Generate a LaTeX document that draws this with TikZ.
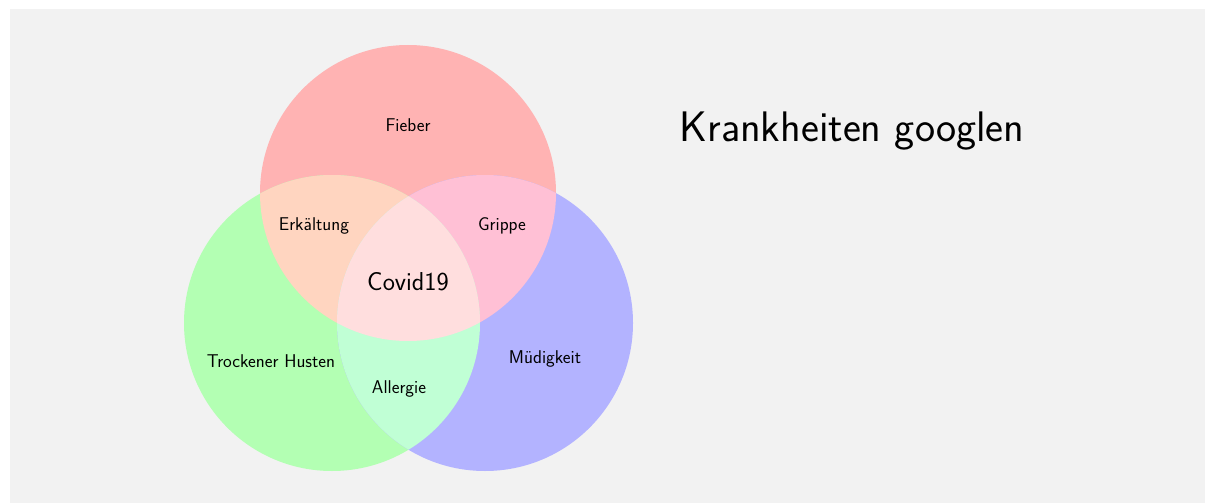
\documentclass[tikz,border=0pt]{standalone}
\usepackage{fontspec}
\definecolor{cR}{RGB}{255,179,179}
\definecolor{cG}{RGB}{179,255,179}
\definecolor{cB}{RGB}{179,179,255}
\definecolor{cRG}{RGB}{255,213,192}
\definecolor{cRB}{RGB}{255,192,213}
\definecolor{cGB}{RGB}{192,255,213}
\definecolor{cRGB}{RGB}{255,222,222}
\definecolor{bgc}{RGB}{242,242,242}
\tikzset{
  lab/.style={font=\sffamily\fontsize{18.5}{22}\selectfont, inner sep=0pt},
  biglab/.style={font=\sffamily\fontsize{25.9}{30}\selectfont, inner sep=0pt},
  titlelab/.style={font=\sffamily\fontsize{42.7}{48}\selectfont, inner sep=0pt}
}
\def\vennR{(408,193) circle (148)}
\def\vennG{(332,323) circle (148)}
\def\vennB{(485,323) circle (148)}
\begin{document}
\begin{tikzpicture}[x=1pt,y=-1pt]
\useasboundingbox (0,0) rectangle (1205,503);
\fill[bgc] (10,9) rectangle (1205,503);
\fill[cR] \vennR;
\fill[cG] \vennG;
\fill[cB] \vennB;
\begin{scope}\clip \vennR; \fill[cRG] \vennG; \end{scope}
\begin{scope}\clip \vennR; \fill[cRB] \vennB; \end{scope}
\begin{scope}\clip \vennG; \fill[cGB] \vennB; \end{scope}
\begin{scope}\clip \vennR; \clip \vennG; \fill[cRGB] \vennB; \end{scope}
\node[lab] (fieber) at (408,125) {Fieber};
\node[lab] (erk) at (314,226) {Erkältung};
\node[lab] (grippe) at (502,226) {Grippe};
\node[biglab] (covid) at (408,282) {Covid19};
\node[lab] (husten) at (271,361) {Trockener Husten};
\node[lab] (muede) at (545,359) {Müdigkeit};
\node[lab] (allergie) at (399,389) {Allergie};
\node[titlelab] (title) at (852,131) {Krankheiten googlen};
\end{tikzpicture}
\end{document}
